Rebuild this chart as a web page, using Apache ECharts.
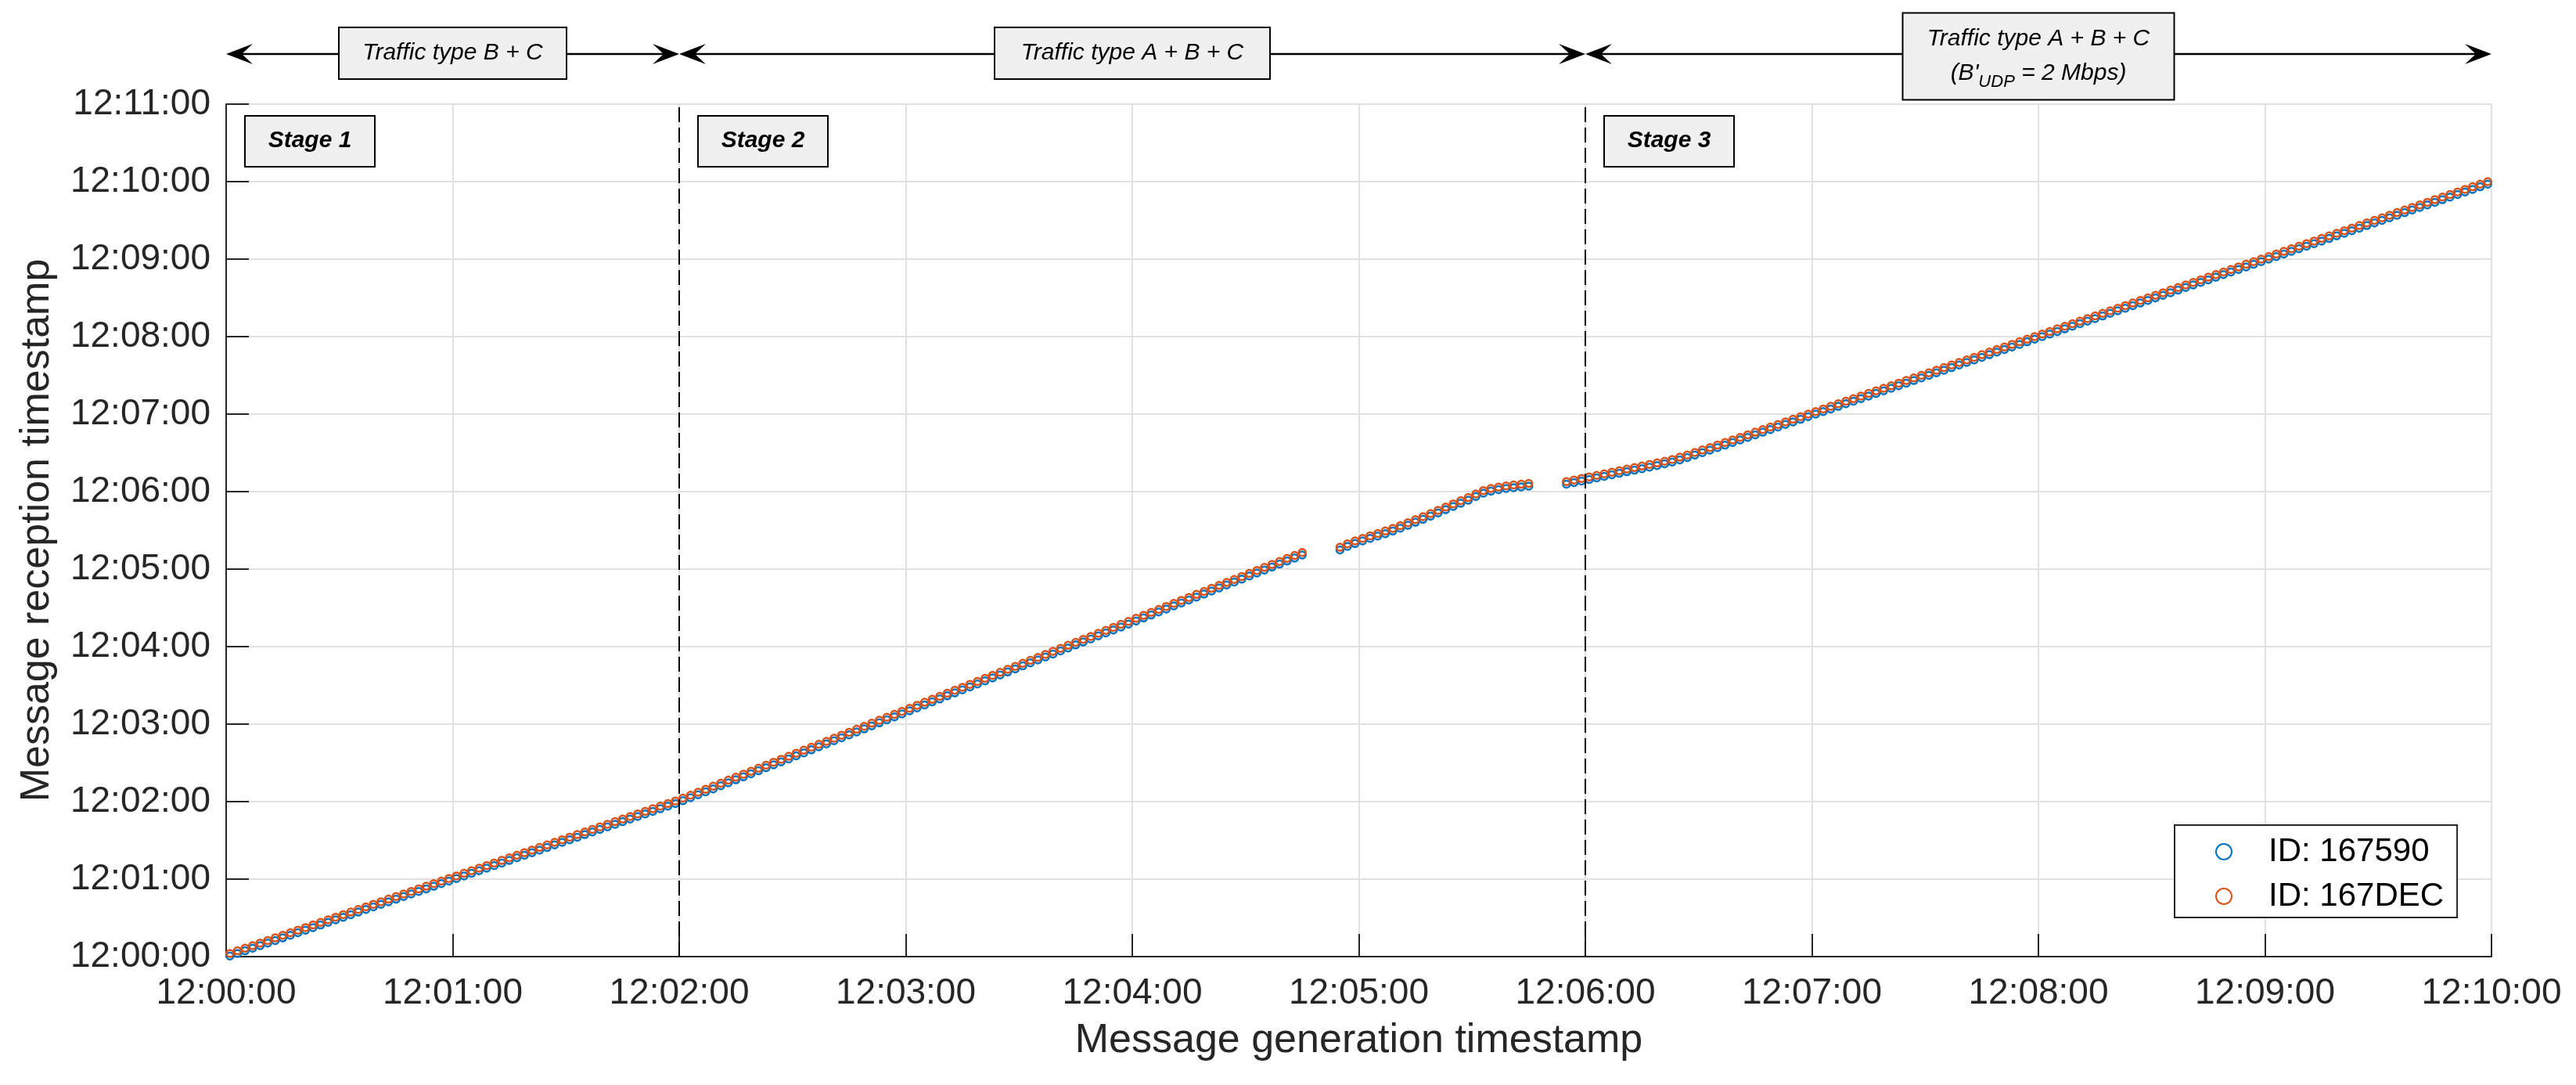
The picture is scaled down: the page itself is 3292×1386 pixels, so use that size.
<!DOCTYPE html>
<html>
<head>
<meta charset="utf-8">
<title>Message generation vs reception timestamp</title>
<script src="https://cdn.jsdelivr.net/npm/echarts@6/dist/echarts.min.js"></script>
<style>
  html, body { margin: 0; padding: 0; background: #fff; }
  #chart { width: 3292px; height: 1386px; }
</style>
</head>
<body>
<div id="chart"></div>
<script>
// seconds after 12:00:00 (generation time, shared by both vehicles)
const genSec = [
  1, 3, 5, 7, 9, 11, 13, 15, 17, 19, 21, 23, 25, 27, 29, 31, 33, 35, 37, 39,
  41, 43, 45, 47, 49, 51, 53, 55, 57, 59, 61, 63, 65, 67, 69, 71, 73, 75, 77, 79,
  81, 83, 85, 87, 89, 91, 93, 95, 97, 99, 101, 103, 105, 107, 109, 111, 113, 115, 117, 119,
  121, 123, 125, 127, 129, 131, 133, 135, 137, 139, 141, 143, 145, 147, 149, 151, 153, 155, 157, 159,
  161, 163, 165, 167, 169, 171, 173, 175, 177, 179, 181, 183, 185, 187, 189, 191, 193, 195, 197, 199,
  201, 203, 205, 207, 209, 211, 213, 215, 217, 219, 221, 223, 225, 227, 229, 231, 233, 235, 237, 239,
  241, 243, 245, 247, 249, 251, 253, 255, 257, 259, 261, 263, 265, 267, 269, 271, 273, 275, 277, 279,
  281, 283, 285,
  295, 297, 299, 301, 303, 305, 307, 309, 311, 313, 315, 317, 319, 321, 323, 325, 327, 329, 331, 333,
  335, 337, 339, 341, 343, 345,
  355, 357, 359, 361, 363, 365, 367, 369, 371, 373, 375, 377, 379, 381, 383, 385, 387, 389, 391, 393,
  395, 397, 399, 401, 403, 405, 407, 409, 411, 413, 415, 417, 419, 421, 423, 425, 427, 429, 431, 433,
  435, 437, 439, 441, 443, 445, 447, 449, 451, 453, 455, 457, 459, 461, 463, 465, 467, 469, 471, 473,
  475, 477, 479, 481, 483, 485, 487, 489, 491, 493, 495, 497, 499, 501, 503, 505, 507, 509, 511, 513,
  515, 517, 519, 521, 523, 525, 527, 529, 531, 533, 535, 537, 539, 541, 543, 545, 547, 549, 551, 553,
  555, 557, 559, 561, 563, 565, 567, 569, 571, 573, 575, 577, 579, 581, 583, 585, 587, 589, 591, 593,
  595, 597, 599
];

// reception time, seconds after 12:00:00
const rec167590 = [
  0.5, 2.5, 4.5, 6.5, 8.5, 10.5, 12.5, 14.5, 16.5, 18.5, 20.5, 22.5, 24.5, 26.5, 28.5, 30.5, 32.5, 34.5, 36.5, 38.5,
  40.5, 42.5, 44.5, 46.5, 48.5, 50.5, 52.5, 54.5, 56.5, 58.5, 60.5, 62.5, 64.5, 66.5, 68.5, 70.5, 72.5, 74.5, 76.5, 78.5,
  80.5, 82.5, 84.5, 86.5, 88.5, 90.5, 92.5, 94.5, 96.5, 98.5, 100.5, 102.5, 104.5, 106.5, 108.5, 110.5, 112.5, 114.5, 116.5, 118.5,
  120.7, 123.0, 125.3, 127.6, 129.9, 132.3, 134.6, 136.9, 139.2, 141.5,
  143.9, 146.2, 148.5, 150.8, 153.1, 155.5, 157.8, 160.1, 162.4, 164.7,
  167.1, 169.4, 171.7, 174.0, 176.3, 178.7, 181.0, 183.3, 185.6, 187.9,
  190.3, 192.6, 194.9, 197.2, 199.5, 201.9, 204.2, 206.5, 208.8, 211.1,
  213.5, 215.8, 218.1, 220.4, 222.7, 225.1, 227.4, 229.7, 232.0, 234.3,
  236.7, 239.0, 241.3, 243.6, 245.9, 248.3, 250.6, 252.9, 255.2, 257.5,
  259.9, 262.2, 264.5, 266.8, 269.1, 271.5, 273.8, 276.1, 278.4, 280.7,
  283.1, 285.4, 287.7, 290.0, 292.3, 294.7, 297.0, 299.3, 301.6, 303.9,
  306.3, 308.6, 310.9,
  314.9, 317.6, 319.8, 321.8, 323.8, 325.6, 327.5, 329.5, 331.7, 333.9,
  336.3, 338.6, 341.0, 343.5, 346.0, 348.5, 351.0, 353.4, 356.2, 358.8,
  360.4, 361.5, 362.4, 363.1, 363.7, 364.3,
  365.8, 367.0, 368.2, 369.4, 370.6, 371.8, 373.0, 374.2, 375.4, 376.6,
  377.8, 379.0, 380.2, 381.5, 382.9, 384.6, 386.4, 388.3, 390.2, 392.1, 394.1,
  396, 398, 400, 402, 404, 406, 408, 410, 412, 414, 416, 418, 420, 422, 424, 426, 428, 430, 432, 434,
  436, 438, 440, 442, 444, 446, 448, 450, 452, 454, 456, 458, 460, 462, 464, 466, 468, 470, 472, 474,
  476, 478, 480, 482, 484, 486, 488, 490, 492, 494, 496, 498, 500, 502, 504, 506, 508, 510, 512, 514,
  516, 518, 520, 522, 524, 526, 528, 530, 532, 534, 536, 538, 540, 542, 544, 546, 548, 550, 552, 554,
  556, 558, 560, 562, 564, 566, 568, 570, 572, 574, 576, 578, 580, 582, 584, 586, 588, 590, 592, 594,
  596, 598
];

const rec167DEC = [
  2.5, 4.5, 6.5, 8.5, 10.5, 12.5, 14.5, 16.5, 18.5, 20.5, 22.5, 24.5, 26.5, 28.5, 30.5, 32.5, 34.5, 36.5, 38.5, 40.5,
  42.5, 44.5, 46.5, 48.5, 50.5, 52.5, 54.5, 56.5, 58.5, 60.5, 62.5, 64.5, 66.5, 68.5, 70.5, 72.5, 74.5, 76.5, 78.5, 80.5,
  82.5, 84.5, 86.5, 88.5, 90.5, 92.5, 94.5, 96.5, 98.5, 100.5, 102.5, 104.5, 106.5, 108.5, 110.5, 112.5, 114.5, 116.5, 118.5, 120.5,
  122.7, 125.0, 127.3, 129.6, 131.9, 134.3, 136.6, 138.9, 141.2, 143.5,
  145.9, 148.2, 150.5, 152.8, 155.1, 157.5, 159.8, 162.1, 164.4, 166.7,
  169.1, 171.4, 173.7, 176.0, 178.3, 180.7, 183.0, 185.3, 187.6, 189.9,
  192.3, 194.6, 196.9, 199.2, 201.5, 203.9, 206.2, 208.5, 210.8, 213.1,
  215.5, 217.8, 220.1, 222.4, 224.7, 227.1, 229.4, 231.7, 234.0, 236.3,
  238.7, 241.0, 243.3, 245.6, 247.9, 250.3, 252.6, 254.9, 257.2, 259.5,
  261.9, 264.2, 266.5, 268.8, 271.1, 273.5, 275.8, 278.1, 280.4, 282.7,
  285.1, 287.4, 289.7, 292.0, 294.3, 296.7, 299.0, 301.3, 303.6, 305.9,
  308.3, 310.6, 312.9,
  316.9, 319.6, 321.8, 323.8, 325.8, 327.6, 329.5, 331.5, 333.7, 335.9,
  338.3, 340.6, 343.0, 345.5, 348.0, 350.5, 353.0, 355.4, 358.2, 360.8,
  362.4, 363.5, 364.4, 365.1, 365.7, 366.3,
  367.8, 369.0, 370.2, 371.4, 372.6, 373.8, 375.0, 376.2, 377.4, 378.6,
  379.8, 381.0, 382.2, 383.5, 384.9, 386.6, 388.4, 390.3, 392.2, 394.1, 396.1,
  398, 400, 402, 404, 406, 408, 410, 412, 414, 416, 418, 420, 422, 424, 426, 428, 430, 432, 434, 436,
  438, 440, 442, 444, 446, 448, 450, 452, 454, 456, 458, 460, 462, 464, 466, 468, 470, 472, 474, 476,
  478, 480, 482, 484, 486, 488, 490, 492, 494, 496, 498, 500, 502, 504, 506, 508, 510, 512, 514, 516,
  518, 520, 522, 524, 526, 528, 530, 532, 534, 536, 538, 540, 542, 544, 546, 548, 550, 552, 554, 556,
  558, 560, 562, 564, 566, 568, 570, 572, 574, 576, 578, 580, 582, 584, 586, 588, 590, 592, 594, 596,
  598, 600
];

const timeTicks = ['12:00:00', '12:01:00', '12:02:00', '12:03:00', '12:04:00', '12:05:00',
  '12:06:00', '12:07:00', '12:08:00', '12:09:00', '12:10:00', '12:11:00'];

const stageStarts = [0, 120, 360];
const stageNames = ['Stage 1', 'Stage 2', 'Stage 3'];
const stageBounds = [120, 360];
const trafficSpans = [[0, 120], [120, 360], [360, 600]];
const trafficLabels = ['Traffic type B + C', 'Traffic type A + B + C', "Traffic type A + B + C\n(B'{sub|UDP} = 2 Mbps)"];

const FONT = '"Liberation Sans", Arial, Helvetica, sans-serif';
const INK = '#262626';

function axisCommon(max) {
  return {
    type: 'value',
    min: 0,
    max: max,
    interval: 60,
    nameLocation: 'middle',
    nameTextStyle: { fontSize: 52, color: INK, fontFamily: FONT },
    axisLine: { onZero: false, lineStyle: { color: INK, width: 2 } },
    axisTick: { inside: true, length: 29, lineStyle: { color: INK, width: 2 } },
    axisLabel: {
      fontSize: 46, color: INK, fontFamily: FONT,
      formatter: v => timeTicks[Math.round(v / 60)]
    },
    splitLine: { show: true, lineStyle: { color: '#e1e1e1', width: 2 } }
  }
}

const xAxis = axisCommon(600);
xAxis.name = 'Message generation timestamp';
xAxis.nameGap = 82;
xAxis.axisLabel.margin = 24;

const yAxis = axisCommon(660);
yAxis.name = 'Message reception timestamp';
yAxis.nameGap = 215;
yAxis.axisLabel.margin = 20;

function pairs(rec) {
  return genSec.map((g, i) => [g, rec[i]]);
}

const option = {
  animation: false,
  backgroundColor: '#fff',
  grid: { left: 289, right: 108, top: 133, bottom: 164 },
  legend: {
    data: ['ID: 167590', 'ID: 167DEC'],
    orient: 'vertical',
    left: 2779,
    top: 1054,
    padding: [13, 17, 6, 52],
    itemWidth: 20,
    itemHeight: 20,
    itemGap: 15,
    backgroundColor: '#fff',
    borderColor: INK,
    borderWidth: 2,
    borderRadius: 0,
    textStyle: { fontSize: 42, lineHeight: 42, color: '#000', fontFamily: FONT, padding: [0, 0, 0, 42] }
  },
  xAxis,
  yAxis,
  series: [
    {
      name: 'ID: 167590',
      type: 'scatter',
      symbol: 'circle',
      symbolSize: 9,
      itemStyle: { color: 'rgba(0,0,0,0)', borderColor: '#0072BD', borderWidth: 2.5, opacity: 1 },
      data: pairs(rec167590),
      silent: true,
      markLine: {
        silent: true,
        symbol: 'none',
        label: { show: false },
        lineStyle: { color: '#000', width: 2, type: [19, 7], opacity: 1 },
        data: stageBounds.map(b => ({ xAxis: b }))
      }
    },
    {
      name: 'ID: 167DEC',
      type: 'scatter',
      symbol: 'circle',
      symbolSize: 9,
      itemStyle: { color: 'rgba(0,0,0,0)', borderColor: '#D95319', borderWidth: 2.5, opacity: 1 },
      data: pairs(rec167DEC),
      silent: true
    }
  ]
};

const chart = echarts.init(document.getElementById('chart'));
chart.setOption(option);

// annotations above and inside the plot, placed from the x axis scale
const xPix = t => chart.convertToPixel({ xAxisIndex: 0 }, t);
const arrowY = 69;
const trafficBoxes = [
  { w: 291, h: 66, cy: 68 },
  { w: 352, h: 66, cy: 68 },
  { w: 347, h: 111, cy: 72 }
];

function arrowHead(tipX, y, dir) {
  return {
    type: 'polygon',
    z: 20,
    shape: { points: [[tipX, y], [tipX + dir * 34, y - 13], [tipX + dir * 20, y], [tipX + dir * 34, y + 13]] },
    style: { fill: '#000' }
  };
}

const textBase = {
  fontFamily: FONT,
  fill: '#000',
  align: 'center',
  verticalAlign: 'middle',
  textAlign: 'center',
  textVerticalAlign: 'middle'
};

const elements = [];
trafficSpans.forEach(([a, b], i) => {
  const x0 = xPix(a);
  const x1 = xPix(b);
  const cx = (x0 + x1) / 2;
  const box = trafficBoxes[i];
  elements.push({
    type: 'line', z: 19,
    shape: { x1: x0 + 15, y1: arrowY, x2: x1 - 15, y2: arrowY },
    style: { stroke: '#000', lineWidth: 2.5 }
  });
  elements.push(arrowHead(x0, arrowY, 1), arrowHead(x1, arrowY, -1));
  elements.push({
    type: 'rect', z: 21,
    shape: { x: cx - box.w / 2, y: box.cy - box.h / 2, width: box.w, height: box.h },
    style: { fill: '#f0f0f0', stroke: '#000', lineWidth: 2 }
  });
  elements.push({
    type: 'text', z: 22, x: cx, y: box.cy,
    style: Object.assign({}, textBase, {
      text: trafficLabels[i],
      fontSize: 30,
      fontStyle: 'italic',
      lineHeight: 44,
      rich: {
        sub: { fontSize: 22, fontStyle: 'italic', fontFamily: FONT, lineHeight: 20, verticalAlign: 'bottom' }
      }
    })
  });
});

stageStarts.forEach((s, i) => {
  const left = xPix(s) + 24;
  elements.push({
    type: 'rect', z: 21,
    shape: { x: left, y: 148, width: 166, height: 65 },
    style: { fill: '#f0f0f0', stroke: '#000', lineWidth: 2 }
  });
  elements.push({
    type: 'text', z: 22, x: left + 83, y: 180,
    style: Object.assign({}, textBase, {
      text: stageNames[i],
      fontSize: 30,
      fontStyle: 'italic',
      fontWeight: 'bold'
    })
  });
});

chart.setOption({ graphic: { elements } });
</script>
</body>
</html>
